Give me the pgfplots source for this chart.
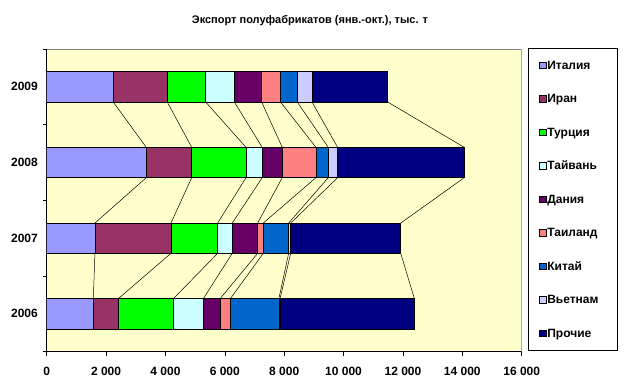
\documentclass[border=0pt]{standalone}
\usepackage{fontspec}
\setmainfont{Liberation Sans}
\usepackage{pgfplots}
\usepackage{pgfplotstable}
\pgfplotsset{compat=1.18}
\definecolor{cItaly}{HTML}{9999FF}
\definecolor{cIran}{HTML}{993366}
\definecolor{cTurkey}{HTML}{00FF00}
\definecolor{cTaiwan}{HTML}{CCFFFF}
\definecolor{cDenmark}{HTML}{660066}
\definecolor{cThailand}{HTML}{FF8080}
\definecolor{cChina}{HTML}{0066CC}
\definecolor{cVietnam}{HTML}{CCCCFF}
\definecolor{cOther}{HTML}{000080}
\definecolor{bg}{HTML}{FFFFCC}
\pgfplotstableread{
y Italy Iran Turkey Taiwan Denmark Thailand China Vietnam Other
0 1570 840 1855 1010 565 345 1635 40 4525
1 1625 2560 1575 490 855 190 855 70 3705
2 3355 1530 1830 545 675 1135 415 315 4265
3 2240 1820 1295 965 920 635 565 495 2550
}\data
\pgfplotsset{
  mybar/.style={fill=#1, draw=black, line width=0.5pt,
    legend image code/.code={\draw[fill=#1,draw=black,line width=0.5pt] (0pt,-3.3pt) rectangle (6.6pt,3.3pt);}},
  sl/.style={black, line width=0.5pt, unbounded coords=jump, forget plot}
}
\begin{document}
\begin{tikzpicture}[x=1pt,y=1pt]
\path[use as bounding box] (0,0) rectangle (623,387);
\fill[white] (0,0) rectangle (623,387);
\node[font=\bfseries\fontsize{11}{13}\selectfont] at (310,366) {Экспорт полуфабрикатов (янв.-окт.), тыс. т};
\begin{axis}[
  at={(46.7pt,35.3pt)}, anchor=south west, scale only axis,
  width=475pt, height=302.7pt,
  xbar stacked, bar width=0.4,
  xmin=0, xmax=16000, ymin=-0.5, ymax=3.5,
  axis background/.style={fill=bg},
  axis x line*=bottom, axis y line*=left,
  axis line style={black, line width=0.6pt},
  tick align=outside, tick style={black, line width=0.6pt},
  major tick length=0pt, minor tick length=4pt,
  xtick={0,2000,4000,6000,8000,10000,12000,14000,16000},
  minor xtick={0,2000,4000,6000,8000,10000,12000,14000,16000},
  xticklabels={0,2 000,4 000,6 000,8 000,10 000,12 000,14 000,16 000},
  ytick={0,1,2,3}, yticklabels={2006,2007,2008,2009},
  minor ytick={-0.5,0.5,1.5,2.5,3.5},
  x tick label style={font=\bfseries\fontsize{12}{14}\selectfont, inner sep=0pt, anchor=north, yshift=-15.3pt},
  y tick label style={font=\bfseries\fontsize{12}{14}\selectfont, inner sep=0pt, anchor=east, xshift=-8.7pt},
  legend cell align=left,
  legend style={draw=none, fill=none, at={(1.0364,0.967)}, anchor=north west,
    font=\bfseries\fontsize{12}{14}\selectfont, row sep=21.5pt, inner sep=0pt,
    nodes={inner xsep=1pt, inner ysep=0pt, text height=10pt, text depth=2pt}},
]
\addplot[mybar=cItaly] table[x=Italy,y=y] \data;
\addplot[mybar=cIran] table[x=Iran,y=y] \data;
\addplot[mybar=cTurkey] table[x=Turkey,y=y] \data;
\addplot[mybar=cTaiwan] table[x=Taiwan,y=y] \data;
\addplot[mybar=cDenmark] table[x=Denmark,y=y] \data;
\addplot[mybar=cThailand] table[x=Thailand,y=y] \data;
\addplot[mybar=cChina] table[x=China,y=y] \data;
\addplot[mybar=cVietnam] table[x=Vietnam,y=y] \data;
\addplot[mybar=cOther] table[x=Other,y=y] \data;
\legend{Италия,Иран,Турция,Тайвань,Дания,Таиланд,Китай,Вьетнам,Прочие}
\draw[gray, line width=0.6pt] (rel axis cs:0,1) -- (rel axis cs:1,1) -- (rel axis cs:1,0);
\end{axis}
\begin{axis}[
  at={(46.7pt,35.3pt)}, anchor=south west, scale only axis,
  width=475pt, height=302.7pt,
  xmin=0, xmax=16000, ymin=-0.5, ymax=3.5, hide axis,
]
\addplot[sl] coordinates {(2240,2.8) (3355,2.2) (nan,nan) (3355,1.8) (1625,1.2) (nan,nan) (1625,0.8) (1570,0.2)};
\addplot[sl] coordinates {(4060,2.8) (4885,2.2) (nan,nan) (4885,1.8) (4185,1.2) (nan,nan) (4185,0.8) (2410,0.2)};
\addplot[sl] coordinates {(5355,2.8) (6715,2.2) (nan,nan) (6715,1.8) (5760,1.2) (nan,nan) (5760,0.8) (4265,0.2)};
\addplot[sl] coordinates {(6320,2.8) (7260,2.2) (nan,nan) (7260,1.8) (6250,1.2) (nan,nan) (6250,0.8) (5275,0.2)};
\addplot[sl] coordinates {(7240,2.8) (7935,2.2) (nan,nan) (7935,1.8) (7105,1.2) (nan,nan) (7105,0.8) (5840,0.2)};
\addplot[sl] coordinates {(7875,2.8) (9070,2.2) (nan,nan) (9070,1.8) (7295,1.2) (nan,nan) (7295,0.8) (6185,0.2)};
\addplot[sl] coordinates {(8440,2.8) (9485,2.2) (nan,nan) (9485,1.8) (8150,1.2) (nan,nan) (8150,0.8) (7820,0.2)};
\addplot[sl] coordinates {(8935,2.8) (9800,2.2) (nan,nan) (9800,1.8) (8220,1.2) (nan,nan) (8220,0.8) (7860,0.2)};
\addplot[sl] coordinates {(11485,2.8) (14065,2.2) (nan,nan) (14065,1.8) (11925,1.2) (nan,nan) (11925,0.8) (12385,0.2)};
\end{axis}
\draw[black, line width=0.6pt] (528.3,339) rectangle (617.7,36.3);
\end{tikzpicture}
\end{document}
